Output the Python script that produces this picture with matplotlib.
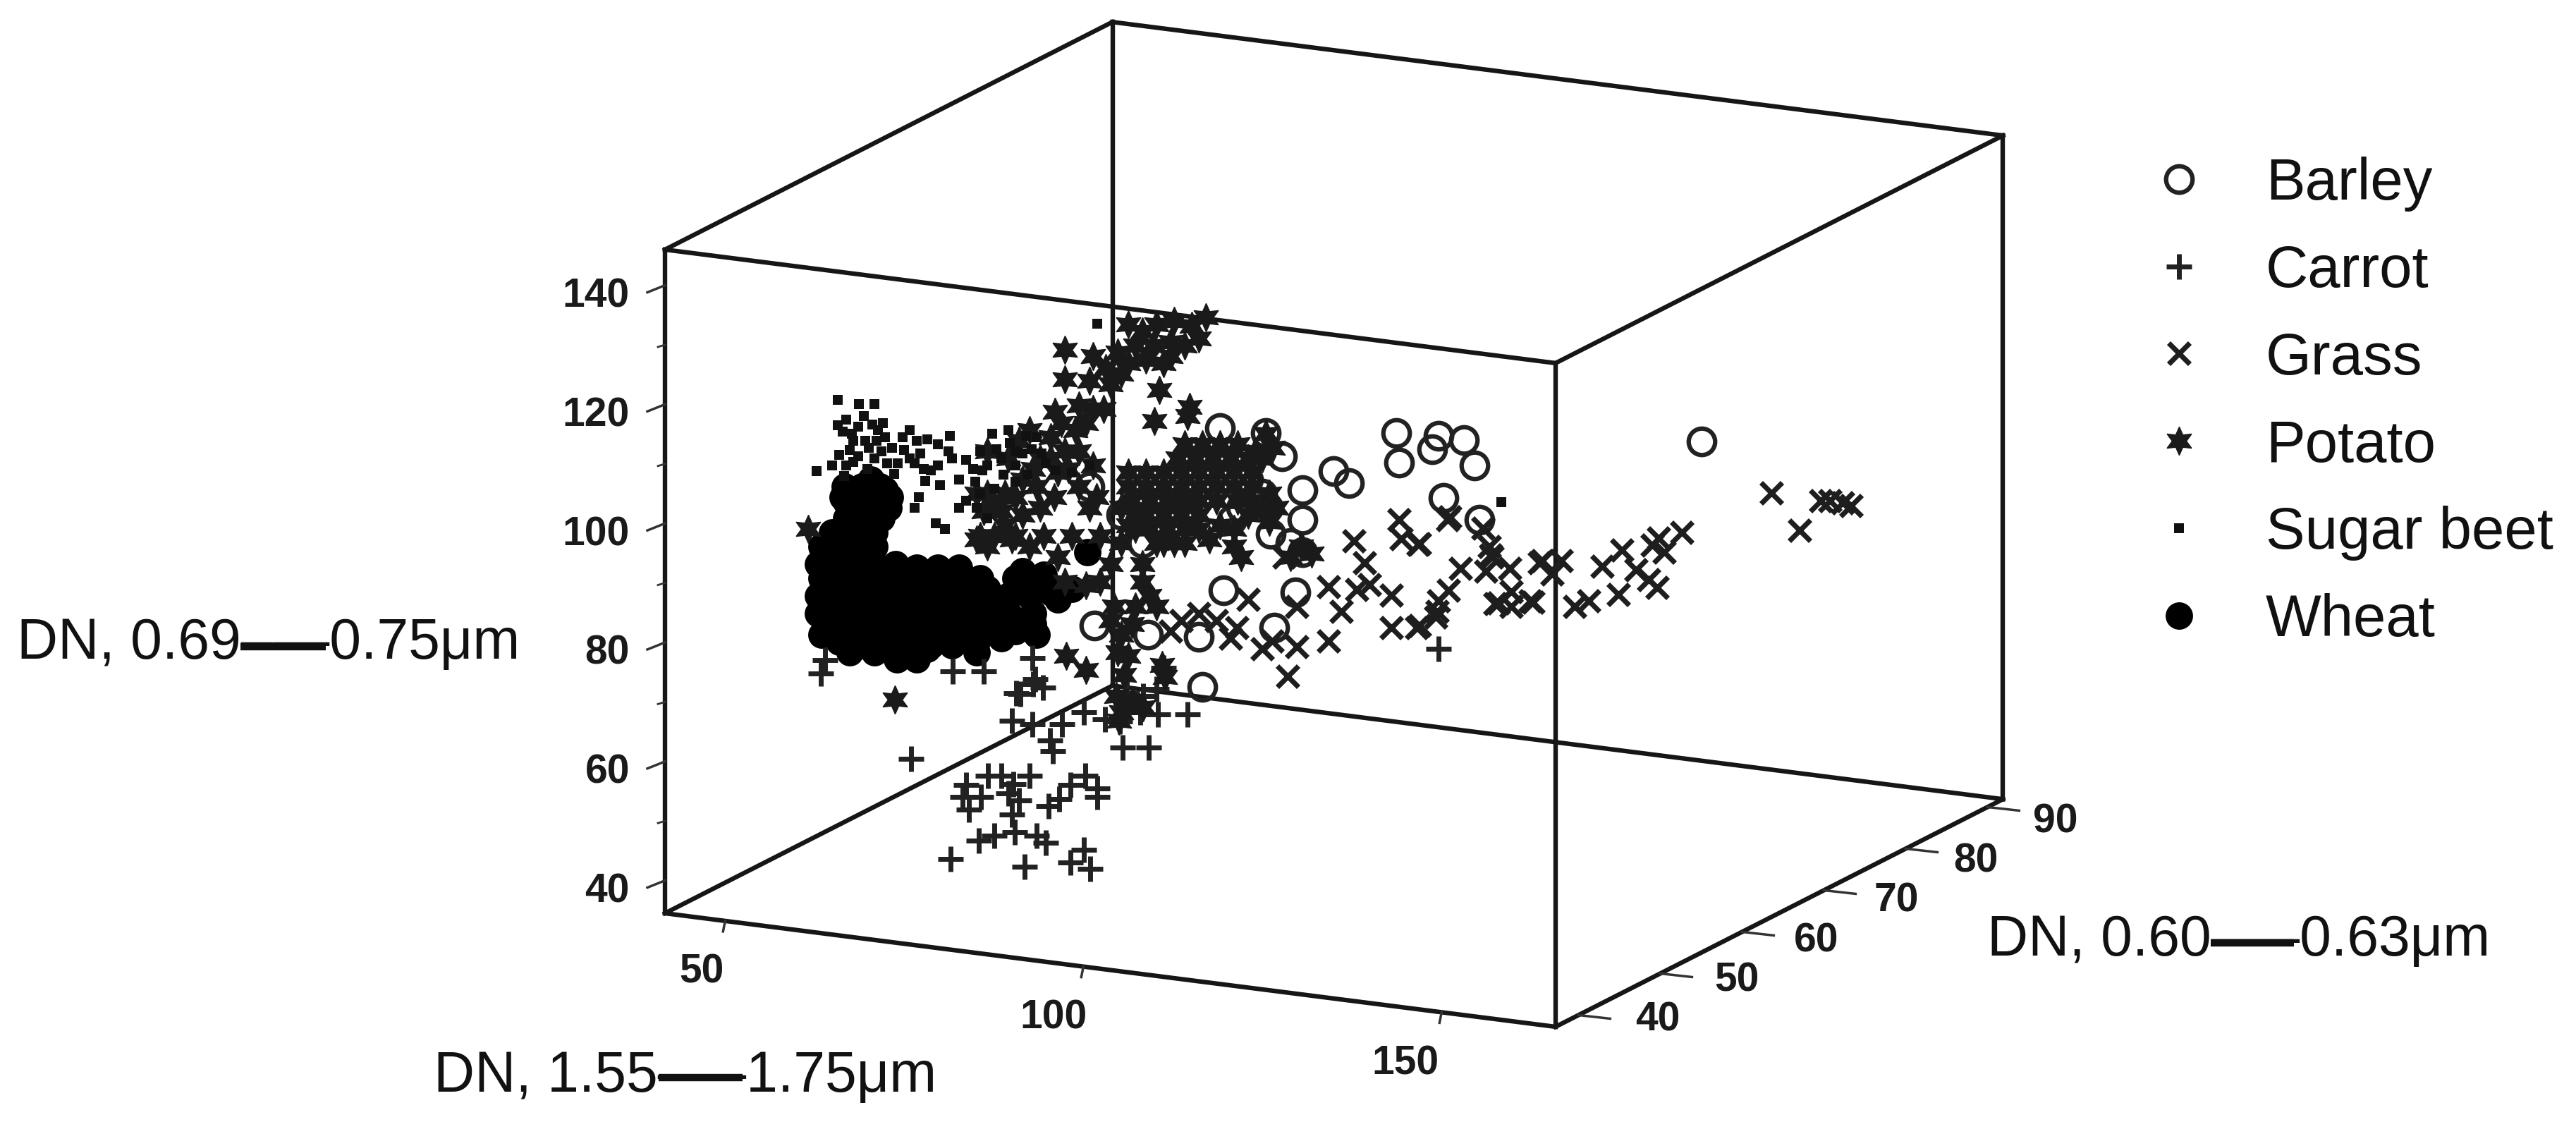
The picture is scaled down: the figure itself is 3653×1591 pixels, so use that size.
"""
Scatter of field samples in three bands, drawn as a fixed oblique box.

The depth of a sample cannot be read from the picture, so the samples are kept
as their position on the page (pixels of the 3653x1591 figure).
"""

import matplotlib
matplotlib.use("Agg")
import numpy as np
import matplotlib.pyplot as plt

plt.rcParams["font.family"] = ["Liberation Sans", "DejaVu Sans"]

###############################################################################
# Axis ranges and tick labels.
###############################################################################
x_range = [41.6, 165.9]
y_range = [37.2, 91.9]
z_range = [34.5, 146.0]

x_ticks = [50, 100, 150]
y_ticks = [40, 50, 60, 70, 80, 90]
z_ticks = [40, 60, 80, 100, 120, 140]
z_minor = [50, 70, 90, 110, 130]

x_title = "DN, 1.55–—1.75μm"
y_title = "DN, 0.60–—0.63μm"
z_title = "DN, 0.69–—0.75μm"

###############################################################################
# Samples.
###############################################################################
barley_x = [1980, 1984, 2040, 2031, 2076, 2091, 2047, 2098, 1891, 1913, 1818, 1847,
            1847, 1802, 1847, 1735, 1628, 1552, 1700, 1807, 1730, 1795, 1747, 1705,
            2413, 1837, 1590, 1545, 1830, 1700, 1650, 1770, 1620, 1760, 1790]
barley_y = [614, 656, 618, 637, 624, 660, 706, 737, 668, 685, 647, 695,
            737, 757, 783, 837, 900, 887, 903, 890, 607, 614, 737, 974,
            626, 840, 730, 690, 770, 690, 710, 680, 770, 720, 700]

carrot_x = [1292, 1401, 1437, 1460, 1370, 1365, 1391, 1374, 1435, 1487, 1518, 1539,
            1556, 1556, 1502, 1388, 1410, 1439, 1470, 1483, 1537, 1518, 1546, 1348,
            1453, 1435, 1464, 1506, 1489, 1493, 1592, 1629, 1684, 1642, 1588, 1567,
            1537, 1617, 1441, 1479, 1468, 1464, 1351, 1395, 1650, 1598, 1621, 1640,
            2040, 1465, 1447, 1164, 1170, 1430, 1420, 1445]
carrot_y = [1076, 1100, 1112, 1100, 1113, 1130, 1130, 1148, 1155, 1143, 1113, 1100,
            1118, 1130, 1133, 1192, 1185, 1180, 1185, 1195, 1205, 1223, 1232, 1218,
            1229, 1022, 1027, 1027, 1050, 1065, 1060, 1060, 1013, 1013, 1023, 1020,
            1010, 1010, 983, 975, 963, 933, 952, 952, 947, 983, 987, 977,
            920, 970, 984, 955, 936, 1125, 1100, 1135]

grass_x = [2512, 2552, 2582, 2595, 2613, 2625, 2385, 2352, 2343, 2360, 2300, 2272,
           2320, 2338, 2350, 2295, 2253, 2233, 2187, 2214, 2201, 2174, 2143, 2120,
           2143, 2114, 2107, 2141, 2071, 2056, 2103, 2112, 2040, 2054, 2038, 2013,
           2011, 1920, 1935, 1984, 1987, 2013, 1973, 1973, 1942, 1924, 1884, 1902,
           1884, 1839, 1804, 1790, 1826, 1745, 1754, 2009, 2036, 2116, 2125, 2170,
           2183, 2053, 1821, 1839, 1700, 1675, 1660, 1725, 1770]
grass_y = [699, 752, 710, 710, 713, 717, 755, 763, 773, 783, 780, 803,
           808, 822, 833, 843, 852, 860, 795, 795, 814, 854, 839, 856,
           860, 787, 810, 806, 806, 733, 749, 775, 852, 837, 867, 887,
           772, 767, 798, 737, 764, 771, 844, 890, 829, 836, 832, 867,
           909, 917, 909, 920, 959, 905, 890, 890, 875, 790, 855, 852,
           798, 737, 790, 860, 870, 880, 895, 880, 850]

potato_x = [1510, 1568, 1550, 1585, 1590, 1575, 1545, 1510, 1550, 1530, 1496, 1505,
            1525, 1565, 1540, 1600, 1620, 1640, 1665, 1690, 1710, 1610, 1635, 1660,
            1680, 1700, 1625, 1650, 1660, 1600, 1637, 1687, 1684, 1644,
            1490, 1510, 1530, 1550, 1475, 1445, 1460, 1500, 1530, 1545, 1555, 1450,
            1425, 1470, 1495, 1475, 1450, 1420, 1400, 1395, 1425, 1390, 1385, 1410,
            1435,
            1680, 1705, 1730, 1755, 1670, 1695, 1720, 1745, 1770,
            1600, 1625, 1650, 1675, 1700, 1725, 1750, 1775,
            1600, 1625, 1650, 1675, 1700, 1725, 1750, 1775,
            1605, 1630, 1655, 1680, 1700, 1725,
            1625, 1650, 1675, 1700, 1630, 1655, 1680, 1640, 1665,
            1715, 1750, 1760, 1795, 1805, 1780, 1790, 1800, 1810, 1790, 1800,
            1845, 1860, 1830, 1620, 1630, 1610, 1640, 1510, 1540, 1560, 1575, 1580,
            1575, 1590, 1605, 1585, 1600, 1600, 1590, 1620,
            1583, 1606, 1621, 1590, 1587, 1648, 1652, 1594, 1269, 1512, 1540, 1146,
            1400, 1430, 1385, 1410, 1440, 1465, 1490, 1515, 1440, 1400, 1460, 1480,
            1520, 1560, 1500, 1590, 1615, 1610, 1650, 1680, 1700, 1730, 1750, 1770,
            1755, 1775]
potato_y = [496, 522, 505, 500, 530, 545, 540, 538, 580, 575, 584, 600,
            610, 580, 600, 460, 470, 460, 455, 462, 450, 490, 490, 485,
            490, 480, 510, 515, 505, 515, 597, 577, 590, 553,
            620, 640, 640, 660, 650, 625, 610, 670, 690, 720, 705, 680,
            700, 690, 705, 720, 730, 725, 700, 725, 745, 760, 765, 760,
            765,
            630, 630, 630, 630, 650, 650, 650, 650, 650,
            670, 670, 670, 670, 670, 670, 670, 670,
            690, 690, 690, 690, 690, 690, 690, 690,
            710, 710, 710, 710, 710, 710,
            730, 730, 730, 730, 750, 750, 750, 770, 770,
            765, 775, 790, 615, 635, 640, 650, 700, 720, 725, 740,
            775, 785, 790, 825, 845, 860, 860, 825, 830, 825, 800, 860,
            880, 900, 885, 925, 930, 745, 770, 800,
            987, 993, 1003, 1010, 1022, 943, 960, 957, 992, 930, 950, 750,
            640, 650, 700, 715, 705, 665, 650, 665, 760, 775, 775, 760,
            760, 760, 790, 720, 735, 750, 770, 770, 750, 745, 750, 730,
            710, 710]

beet_x = [1188, 1218, 1240, 1188, 1200, 1217, 1237, 1245, 1208, 1210, 1227, 1243,
          1255, 1290, 1280, 1315, 1347, 1282, 1305, 1190, 1217, 1240, 1258, 1273,
          1158, 1197, 1297, 1312, 1320, 1330, 1333, 1350, 1370, 1360, 1370, 1303,
          1297, 1327, 1340, 1390, 1413, 1432, 1407, 1455, 1463, 1477, 1450, 1393,
          1383, 1410, 1390, 1423, 1440, 1457, 1483, 1497, 1520, 1545, 2129, 1556,
          1195, 1225, 1252, 1265, 1232, 1205, 1250, 1210, 1230, 1180, 1200, 1268,
          1290, 1300, 1330, 1345, 1310, 1380, 1400, 1420, 1440, 1360, 1385, 1400,
          1430, 1470, 1440]
beet_y = [567, 573, 573, 603, 595, 605, 602, 610, 615, 625, 625, 625,
          620, 610, 620, 623, 618, 638, 643, 645, 647, 650, 657, 657,
          668, 675, 657, 682, 667, 660, 688, 650, 652, 680, 710, 705,
          720, 742, 750, 640, 637, 628, 615, 618, 637, 643, 643, 667,
          683, 693, 700, 673, 683, 673, 657, 667, 670, 660, 712, 459,
          612, 590, 600, 635, 635, 638, 640, 655, 665, 660, 660, 672,
          650, 625, 630, 640, 665, 665, 660, 650, 660, 720, 720, 735,
          610, 620, 640]

wheat_x = [1180, 1200, 1225, 1240, 1165, 1190, 1215, 1240,
           1160, 1185, 1210, 1240, 1270, 1300, 1330, 1360,
           1165, 1190, 1215, 1245, 1275, 1305, 1335, 1365, 1390, 1440, 1470,
           1160, 1190, 1220, 1250, 1280, 1310, 1340, 1370, 1400, 1430, 1460, 1490, 1510,
           1160, 1190, 1220, 1250, 1280, 1310, 1340, 1370, 1400, 1430, 1465,
           1175, 1205, 1235, 1265, 1295, 1325, 1355, 1385, 1415, 1440, 1465,
           1190, 1225, 1260, 1290, 1320, 1385, 1420, 1285, 1272, 1300, 1385,
           1195, 1230, 1255, 1245, 1215, 1260, 1235, 1542,
           1200, 1225, 1250, 1198, 1222, 1248, 1262, 1200, 1225, 1250,
           1340, 1375, 1400, 1450, 1480, 1165, 1190, 1220,
           1500, 1520, 1470, 1350, 1315, 1240, 1205]
wheat_y = [755, 755, 755, 755, 775, 775, 775, 775,
           800, 800, 800, 800, 800, 805, 805, 805,
           820, 820, 820, 820, 820, 820, 820, 820, 820, 820, 820,
           845, 845, 845, 845, 845, 845, 845, 845, 845, 845, 845, 840, 835,
           870, 870, 870, 870, 870, 870, 870, 870, 870, 870, 870,
           885, 890, 895, 895, 895, 895, 895, 895, 895, 895, 885,
           910, 915, 915, 915, 915, 910, 905, 925, 935, 935, 925,
           705, 700, 695, 715, 720, 720, 680, 783,
           735, 735, 735, 690, 690, 690, 705, 712, 712, 712,
           835, 830, 835, 810, 815, 900, 905, 910,
           850, 835, 900, 915, 920, 925, 925]

# the long thick dash in each axis title: left end, right end, height on the page
dash_left = [341, 934, 3135]
dash_right = [462, 1053, 3253]
dash_height = [917, 1528, 1337]

###############################################################################
# Fixed oblique view: one data unit along each axis moves this far on the page.
###############################################################################
origin = np.array([943.0, 1295.0])
x_step = np.array([10.16, 1.295])
y_step = np.array([11.6, -5.9])
z_step = np.array([0.0, -8.44])


def project(x, y, z):
    return (origin + (x - x_range[0])*x_step + (y - y_range[0])*y_step
            + (z - z_range[0])*z_step)


def edge(ax, p, q, lw=4.6):
    ax.plot([p[0], q[0]], [p[1], q[1]], color="#161616", lw=lw,
            solid_capstyle="projecting")


def tick(ax, p, dx, dy, lw=2.5):
    ax.plot([p[0], p[0] + dx], [p[1], p[1] + dy], color="#333333", lw=lw)


fig = plt.figure(figsize=(36.53, 15.91), dpi=100)
ax = fig.add_axes([0, 0, 1, 1])
ax.set_xlim(0, 3653)
ax.set_ylim(1591, 0)
ax.axis("off")

###############################################################################
# The twelve edges of the box.
###############################################################################
for y in y_range:
    for z in z_range:
        edge(ax, project(x_range[0], y, z), project(x_range[1], y, z))
for x in x_range:
    for z in z_range:
        edge(ax, project(x, y_range[0], z), project(x, y_range[1], z))
for x in x_range:
    for y in y_range:
        edge(ax, project(x, y, z_range[0]), project(x, y, z_range[1]))

###############################################################################
# Ticks and their labels.
###############################################################################
tick_font = dict(fontsize=41, fontweight="bold", color="#1a1a1a")

for z in z_ticks:
    p = project(x_range[0], y_range[0], z)
    tick(ax, p, -25, 10)
    ax.text(p[0] - 50, p[1] + 16, str(z), ha="right", va="center", **tick_font)
for z in z_minor:
    p = project(x_range[0], y_range[0], z)
    tick(ax, p, -10, 3, lw=2.0)
for x in x_ticks:
    p = project(x, y_range[0], z_range[0])
    tick(ax, p, -3, 15)
    ax.text(p[0] - 33 - 0.18*(x - 50), p[1] + 73, str(x), ha="center", va="center",
            **tick_font)
for y in y_ticks:
    p = project(x_range[1], y, z_range[0])
    tick(ax, p, 45, 5)
    ax.text(p[0] + 112 - 0.32*(y - 40), p[1] + 7 + 0.28*(y - 40), str(y), ha="center",
            va="center", **tick_font)

title_font = dict(fontsize=58, color="#111111", ha="left", va="center")
ax.text(24, 913, z_title, **title_font)
ax.text(615, 1527, x_title, **title_font)
ax.text(2818, 1334, y_title, **title_font)
ax.hlines(dash_height, dash_left, dash_right, color="#111111", lw=7.5)

###############################################################################
# The samples.
###############################################################################
ax.plot(wheat_x, wheat_y, ls="none", marker="o", ms=28, mfc="#000000", mec="#000000",
        mew=0, label="Wheat")
ax.plot(barley_x, barley_y, ls="none", marker="o", ms=27, mfc="none", mec="#222222",
        mew=4.5, label="Barley")
ax.plot(carrot_x, carrot_y, ls="none", marker="+", ms=26, color="#222222", mew=5,
        label="Carrot")
ax.plot(grass_x, grass_y, ls="none", marker="x", ms=21, color="#1e1e1e", mew=5.2,
        label="Grass")
ax.plot(potato_x, potato_y, ls="none", marker=(6, 1, 0), ms=29, color="#1a1a1a", mew=1,
        label="Potato")
ax.plot(beet_x, beet_y, ls="none", marker="s", ms=10.5, mfc="#111111", mew=0,
        label="Sugar beet")

handles, labels = ax.get_legend_handles_labels()
order = ["Barley", "Carrot", "Grass", "Potato", "Sugar beet", "Wheat"]
handles = [handles[labels.index(name)] for name in order]
ax.legend(handles, order, loc="upper left", bbox_to_anchor=(3048/3653, 1 - 222/1591),
          frameon=False, fontsize=60, numpoints=1, handlelength=1.0, handletextpad=0.98,
          labelspacing=0.55, borderpad=0, borderaxespad=0, labelcolor="#111111")

fig.savefig("out.png", dpi=100, facecolor="white")
